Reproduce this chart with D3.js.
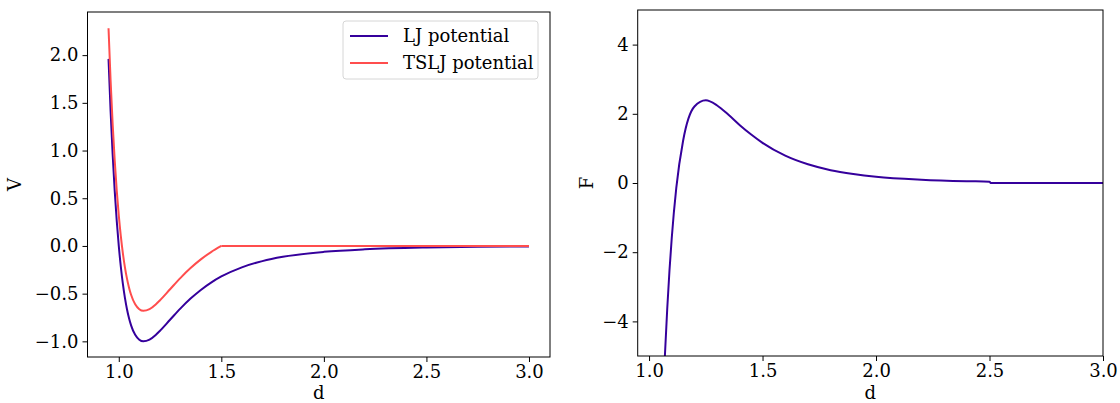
<!DOCTYPE html>
<html>
<head>
<meta charset="utf-8">
<script src="https://cdn.jsdelivr.net/npm/d3@7"></script>
<style>
  body { margin: 0; background: #fff; }
  svg { display: block; font-family: "DejaVu Serif", serif; }
</style>
</head>
<body>
<div class="container"></div>
<script>
// values
var dV   = [0.95, 0.96, 0.97, 0.98, 0.99, 1.00, 1.01, 1.02, 1.03, 1.04, 1.05, 1.06, 1.08, 1.10, 1.12, 1.15, 1.18, 1.20, 1.25, 1.30, 1.35, 1.40, 1.45, 1.50, 1.60, 1.70, 1.80, 2.00, 2.20, 2.50, 2.75, 3.00];
var ljV  = [1.961, 1.418, 0.963, 0.582, 0.264, 0.0, -0.218, -0.398, -0.544, -0.663, -0.758, -0.832, -0.932, -0.983, -1.0, -0.982, -0.933, -0.891, -0.774, -0.657, -0.552, -0.461, -0.384, -0.320, -0.224, -0.159, -0.114, -0.062, -0.035, -0.016, -0.009, -0.005];
var tsljV = [2.281, 1.738, 1.283, 0.902, 0.584, 0.320, 0.102, -0.078, -0.224, -0.343, -0.438, -0.512, -0.612, -0.663, -0.680, -0.662, -0.613, -0.571, -0.454, -0.337, -0.232, -0.141, -0.064, 0.0, 0.0, 0.0, 0.0, 0.0, 0.0, 0.0, 0.0, 0.0];

var dF = [1.00, 1.02, 1.04, 1.05, 1.06, 1.07, 1.08, 1.09, 1.10, 1.12, 1.15, 1.20, 1.25, 1.30, 1.35, 1.40, 1.45, 1.50, 1.60, 1.70, 1.80, 1.90, 2.00, 2.20, 2.40, 2.50, 2.505, 2.75, 3.00];
var ljF = [-24.0, -16.2, -10.6, -8.4, -6.54, -4.97, -3.65, -2.53, -1.59, -0.14, 1.22, 2.21, 2.39, 2.24, 1.97, 1.67, 1.40, 1.16, 0.79, 0.54, 0.37, 0.26, 0.18, 0.095, 0.052, 0.039, 0.0, 0.0, 0.0];

var xTicks = [1.0, 1.5, 2.0, 2.5, 3.0];
var vTicks = [-1.0, -0.5, 0.0, 0.5, 1.0, 1.5, 2.0];
var fTicks = [-4, -2, 0, 2, 4];

var ljColor = "#35009c";
var tsColor = "#ff4d4d";
var fs = 18;

var svg = d3.select(".container").append("svg")
  .attr("width", 1120).attr("height", 403);

function makeAxes(box, xdom, ydom, xt, yt, yfmt, ylab, labOff, id) {
  var x = d3.scaleLinear().domain(xdom).range([box.l, box.r]);
  var y = d3.scaleLinear().domain(ydom).range([box.b, box.t]);
  var g = svg.append("g");
  g.append("clipPath").attr("id", id)
    .append("rect").attr("x", box.l).attr("y", box.t)
    .attr("width", box.r - box.l).attr("height", box.b - box.t);

  var xa = g.append("g").attr("transform", "translate(0," + box.b + ")")
    .call(d3.axisBottom(x).tickValues(xt).tickFormat(d3.format(".1f")).tickSize(5).tickPadding(3));
  var ya = g.append("g").attr("transform", "translate(" + box.l + ",0)")
    .call(d3.axisLeft(y).tickValues(yt).tickFormat(yfmt).tickSize(5).tickPadding(4));
  [xa, ya].forEach(function(a) {
    a.select(".domain").remove();
    a.selectAll("text").attr("font-size", fs).attr("font-family", "DejaVu Serif").attr("fill", "#000");
    a.selectAll("line").attr("stroke", "#000").attr("stroke-width", 1);
  });
  // unicode minus like matplotlib
  g.selectAll("text").filter(function() { return this.textContent.indexOf("-") === 0; })
    .text(function() { return "\u2212" + this.textContent.slice(1); });

  g.append("text").attr("x", (box.l + box.r) / 2).attr("y", 399)
    .attr("text-anchor", "middle").attr("font-size", fs).text("d");
  g.append("text")
    .attr("transform", "translate(" + (box.l - labOff) + "," + ((box.t + box.b) / 2) + ") rotate(-90)")
    .attr("text-anchor", "middle").attr("font-size", fs).text(ylab);

  return { g: g, x: x, y: y, box: box, id: id };
}

function drawLine(ax, xs, ys, color) {
  var pts = xs.map(function(v, i) { return [v, ys[i]]; });
  var line = d3.line()
    .x(function(p) { return ax.x(p[0]); })
    .y(function(p) { return ax.y(p[1]); })
    .curve(d3.curveMonotoneX);
  ax.g.append("path").datum(pts)
    .attr("clip-path", "url(#" + ax.id + ")")
    .attr("d", line)
    .attr("fill", "none").attr("stroke", color).attr("stroke-width", 2);
}

function frame(ax) {
  var b = ax.box;
  ax.g.append("rect").attr("x", b.l).attr("y", b.t)
    .attr("width", b.r - b.l).attr("height", b.b - b.t)
    .attr("fill", "none").attr("stroke", "#000").attr("stroke-width", 1);
}

// left: potential
var axV = makeAxes({ l: 87.5, r: 550, t: 12, b: 357 }, [0.8475, 3.1025], [-1.164, 2.452],
  xTicks, vTicks, d3.format(".1f"), "V", 67, "clipV");
drawLine(axV, dV, ljV, ljColor);
// TSLJ drawn in two pieces so the corner at the cutoff stays sharp
var cut = dV.indexOf(1.5);
drawLine(axV, dV.slice(0, cut + 1), tsljV.slice(0, cut + 1), tsColor);
drawLine(axV, dV.slice(cut), tsljV.slice(cut), tsColor);
frame(axV);

// legend
var leg = axV.g.append("g");
leg.append("rect").attr("x", 343).attr("y", 21).attr("width", 195).attr("height", 58)
  .attr("rx", 3).attr("fill", "#fff").attr("fill-opacity", 0.8)
  .attr("stroke", "#d6d6d6").attr("stroke-width", 1);
[["LJ potential", ljColor, 36], ["TSLJ potential", tsColor, 63]].forEach(function(e) {
  leg.append("line").attr("x1", 350).attr("x2", 388).attr("y1", e[2]).attr("y2", e[2])
    .attr("stroke", e[1]).attr("stroke-width", 2);
  leg.append("text").attr("x", 403).attr("y", e[2] + 6).attr("font-size", fs).text(e[0]);
});

// right: force
var axF = makeAxes({ l: 637.7, r: 1103, t: 10, b: 356 }, [0.95, 3.0], [-5, 5],
  xTicks, fTicks, d3.format("d"), "F", 45, "clipF");
drawLine(axF, dF, ljF, ljColor);
frame(axF);
</script>
</body>
</html>
